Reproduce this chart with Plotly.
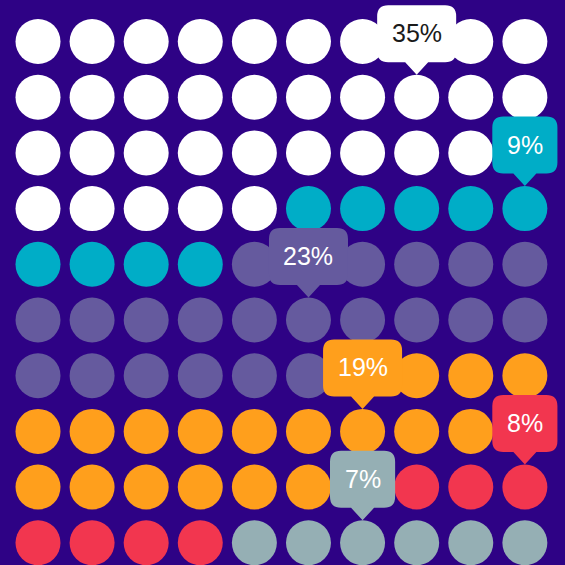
import plotly.graph_objects as go

# ---- data ----
categories = ["A", "B", "C", "D", "E", "F"]
percentages = [35, 9, 23, 19, 8, 7]          # labels shown in callouts
dot_counts = [35, 9, 23, 19, 8, 6]           # dots drawn in the 10x10 grid
colors = ["#FFFFFF", "#00ADC7", "#655A9E", "#FF9F1C", "#F2364F", "#95AFB4"]
text_colors = ["#1A1A1A", "#FFFFFF", "#FFFFFF", "#FFFFFF", "#FFFFFF", "#FFFFFF"]

BG = "#2E0285"
N_COLS = 10
N_ROWS = 10

fig = go.Figure()

shapes = []
annotations = []
start = 0
for cat, cnt, pct, col, tcol in zip(categories, dot_counts, percentages, colors, text_colors):
    idx = list(range(start, start + cnt))
    xs = [i % N_COLS for i in idx]
    ys = [i // N_COLS for i in idx]
    fig.add_trace(go.Scatter(
        x=xs, y=ys, mode="markers", name=cat,
        marker=dict(size=45, color=col, line=dict(width=0)),
        hoverinfo="skip", showlegend=False,
    ))
    mid = (idx[0] + idx[-1]) // 2
    ax, ay = mid % N_COLS, mid // N_COLS
    label = f"{pct}%"
    text_w = sum(0.889 if ch == "%" else 0.556 for ch in label) * 25
    hw = text_w / 2 + 14.5
    b, t, r, tip, pw = 35, 92, 11, 22.5, 11.5
    path = (f"M {-pw},{b} L 0,{tip} L {pw},{b} L {hw - r},{b} Q {hw},{b} {hw},{b + r} "
            f"L {hw},{t - r} Q {hw},{t} {hw - r},{t} L {-hw + r},{t} Q {-hw},{t} {-hw},{t - r} "
            f"L {-hw},{b + r} Q {-hw},{b} {-hw + r},{b} Z")
    shapes.append(dict(
        type="path", xref="x", yref="y", xsizemode="pixel", ysizemode="pixel",
        xanchor=ax, yanchor=ay, path=path, fillcolor=col, line=dict(width=0),
        layer="above",
    ))
    annotations.append(dict(
        x=ax, y=ay, xref="x", yref="y", text=label, showarrow=False,
        yshift=64, font=dict(size=25, color=tcol, family="Arial, Liberation Sans, sans-serif"),
    ))
    start += cnt

fig.update_layout(
    width=565, height=565,
    margin=dict(l=0, r=0, t=0, b=0),
    paper_bgcolor=BG, plot_bgcolor=BG,
    xaxis=dict(range=[-0.7024, 9.742], visible=False, fixedrange=True),
    yaxis=dict(range=[9.399, -0.745], visible=False, fixedrange=True),
    shapes=shapes, annotations=annotations,
    showlegend=False,
)

fig.write_html("out.html", config={"displayModeBar": False},
               post_script="document.body.style.margin='0';document.body.style.background='" + BG + "';")
